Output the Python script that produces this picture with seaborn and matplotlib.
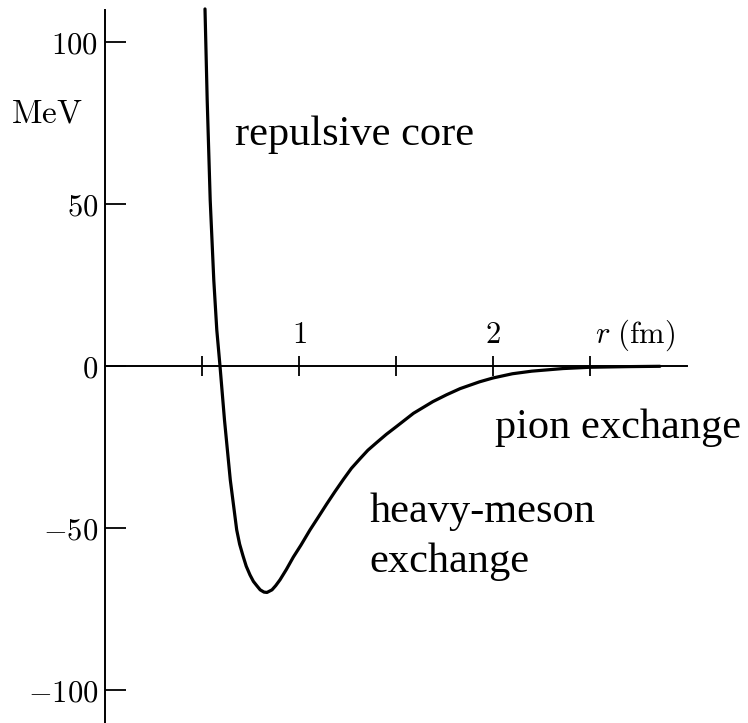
import matplotlib
matplotlib.use("Agg")
import matplotlib.pyplot as plt
import seaborn as sns
import pandas as pd

# Nucleon-nucleon potential V(r)
r_fm = [0.5155, 0.5268, 0.5423, 0.5608, 0.5763, 0.5928, 0.6160, 0.6459, 0.6789,
        0.694, 0.7113, 0.728, 0.7474, 0.765, 0.7835, 0.80, 0.8196, 0.8351,
        0.8608, 0.88, 0.9021, 0.935, 0.9706, 1.01, 1.0567, 1.10, 1.1428,
        1.185, 1.2289, 1.27, 1.3149, 1.355, 1.4010, 1.45, 1.50, 1.59, 1.69,
        1.76, 1.83, 1.93, 2.0, 2.1, 2.2, 2.36, 2.5, 2.7, 2.86]
v_mev = [110.2, 82.1, 51.2, 26.5, 11.1, 0.0, -16.7, -35.2, -50.6,
         -55.0, -58.6, -61.8, -64.5, -66.5, -67.9, -69.1, -69.8, -69.9,
         -69.1, -67.8, -66.0, -62.8, -59.0, -55.3, -50.6, -46.6, -42.6,
         -38.8, -35.0, -31.6, -28.6, -26.0, -23.6, -21.1, -18.8, -14.6, -11.0,
         -8.9, -7.0, -4.9, -3.7, -2.4, -1.6, -0.8, -0.4, -0.2, -0.1]

y_ticks = [-100, -50, 0, 50, 100]
y_tick_labels = ["$-100$", "$-50$", "$0$", "$50$", "$100$"]
x_ticks = [0.5, 1.0, 1.5, 2.0, 2.5]
x_tick_labels = ["", "$1$", "", "$2$", ""]

df = pd.DataFrame({"r": r_fm, "V": v_mev})

sns.set_theme(style="white")
plt.rcParams["mathtext.fontset"] = "cm"
plt.rcParams["font.family"] = ["DejaVu Sans"]
plt.rcParams["text.color"] = "black"

fig = plt.figure(figsize=(7.48, 7.23), dpi=100)
ax = fig.add_axes([0, 0, 1, 1])
ax.set_facecolor("white")

sns.lineplot(data=df, x="r", y="V", ax=ax, color="black", linewidth=2.3,
             sort=False, estimator=None, solid_joinstyle="round",
             solid_capstyle="round")

ax.set_xlim(-0.541, 3.314)
ax.set_ylim(-110.2, 112.96)
ax.set_xlabel("")
ax.set_ylabel("")

# axes crossing at the origin
for side in ("right", "bottom"):
    ax.spines[side].set_visible(False)
ax.spines["left"].set_position(("data", 0))
ax.spines["top"].set_position(("data", 0))
ax.spines["left"].set_bounds(-110.2, 109.9)
ax.spines["top"].set_bounds(0, 3.0)
for side in ("left", "top"):
    ax.spines[side].set_color("black")
    ax.spines[side].set_linewidth(1.4)

ax.yaxis.set_ticks_position("left")
ax.set_yticks(y_ticks)
ax.set_yticklabels(y_tick_labels)
ax.tick_params(axis="y", direction="in", length=15, width=1.3, pad=5,
               labelsize=22, colors="black")

ax.xaxis.set_ticks_position("top")
ax.set_xticks(x_ticks)
ax.set_xticklabels(x_tick_labels)
ax.tick_params(axis="x", direction="inout", length=15, width=1.3, pad=5,
               labelsize=22, colors="black", labeltop=True, labelbottom=False)

ax.text(-0.299, 78.1, r"$\mathrm{MeV}$", fontsize=24, ha="center", va="center",
        color="black")
ax.text(2.73, 7.1, r"$r\ (\mathrm{fm})$", fontsize=22, ha="center",
        va="baseline", color="black")

serif = {"family": "Liberation Serif", "size": 30.5}
ax.text(0.67, 68.2, "repulsive core", fontdict=serif, ha="left",
        va="baseline", color="black")
ax.text(2.01, -22.2, "pion exchange", fontdict=serif, ha="left",
        va="baseline", color="black")
ax.text(1.363, -48.1, "heavy-meson", fontdict=serif, ha="left",
        va="baseline", color="black")
ax.text(1.363, -63.5, "exchange", fontdict=serif, ha="left",
        va="baseline", color="black")

fig.savefig("out.png", dpi=100, facecolor="white")
